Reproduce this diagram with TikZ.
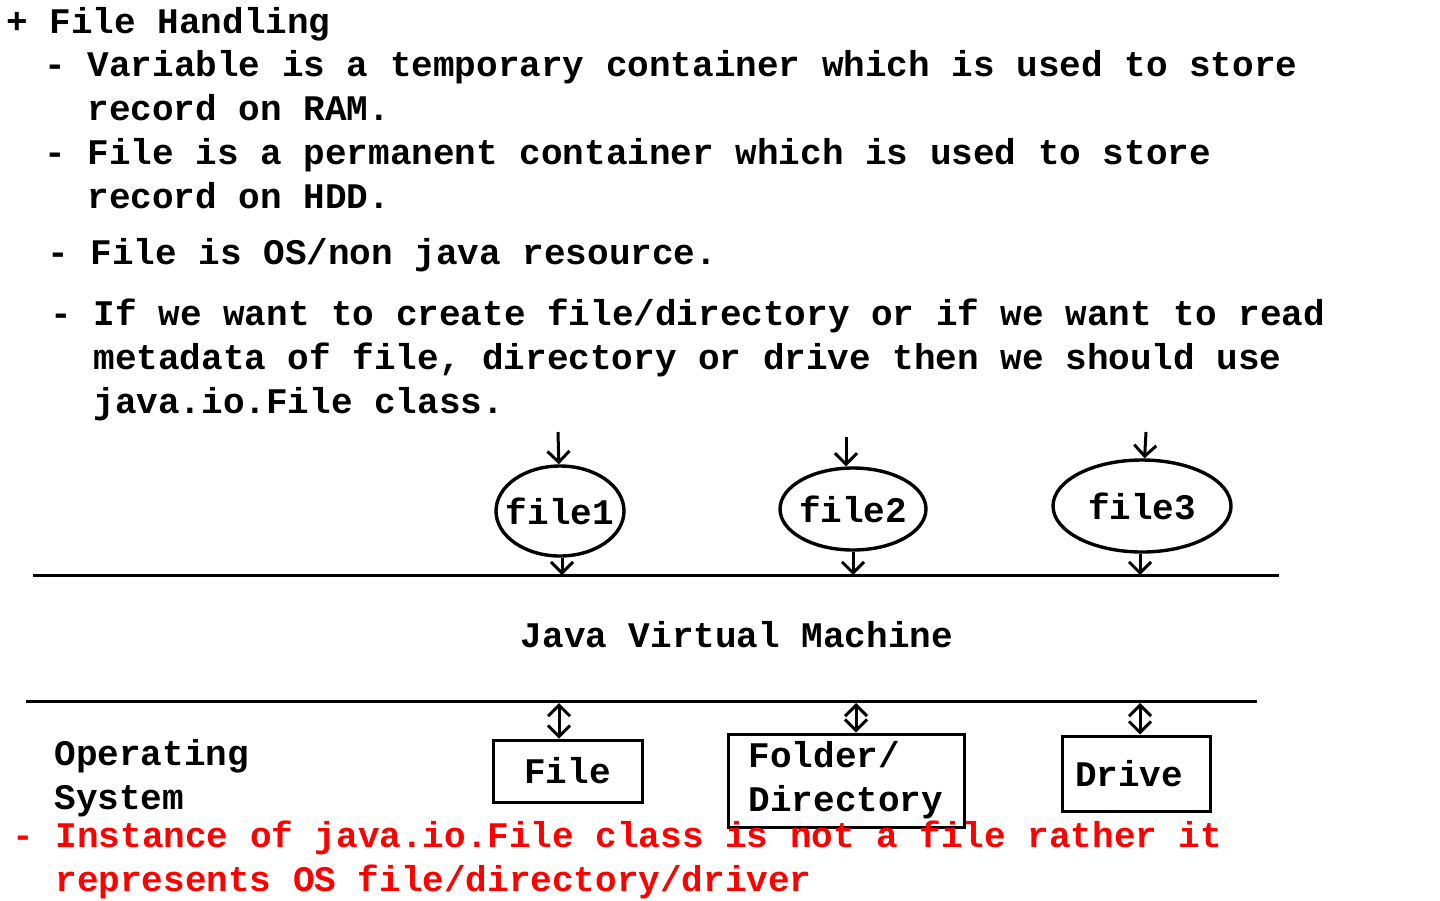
\documentclass[tikz,border=0pt]{standalone}
\usepackage{fontspec}
\usepackage{xcolor}
\usetikzlibrary{shapes.geometric,arrows.meta}
\setmonofont{Liberation Mono}
\definecolor{hinweis}{HTML}{FF0000}

\tikzset{
  txt/.style={font=\ttfamily\bfseries\fontsize{18}{22}\selectfont, inner sep=0pt, anchor=base west},
  obj/.style={draw, line width=1.7pt, ellipse, inner ysep=0pt, inner xsep=-5pt, font=\ttfamily\bfseries\fontsize{18}{22}\selectfont},
  res/.style={draw, line width=1.5pt, rectangle, inner sep=0pt, align=left, font=\ttfamily\bfseries\fontsize{18}{22}\selectfont},
  >={Straight Barb[length=5.5pt,width=11pt]}
}

\begin{document}
\begin{tikzpicture}[x=0.5pt, y=-0.5pt, line width=1.5pt]
    \useasboundingbox (0,0) rectangle (1440,900);

    % Notes
    \node[txt] (head) at (5,33) {+ File Handling};
    \node[txt] (var1) at (43,76) {- Variable is a temporary container which is used to store};
    \node[txt] (var2) at (86,120) {record on RAM.};
    \node[txt] (fil1) at (43,164) {- File is a permanent container which is used to store};
    \node[txt] (fil2) at (86,208) {record on HDD.};
    \node[txt] (osres) at (46,264) {- File is OS/non java resource.};
    \node[txt] (use1) at (49,325) {- If we want to create file/directory or if we want to read};
    \node[txt] (use2) at (92,369) {metadata of file, directory or drive then we should use};
    \node[txt] (use3) at (92,413) {java.io.File class.};

    % File objects
    \node[obj, minimum width=64pt, minimum height=45pt] (f1) at (560,511) {file1};
    \node[obj, minimum width=73pt, minimum height=41pt] (f2) at (853,509) {file2};
    \node[obj, minimum width=89pt, minimum height=46pt] (f3) at (1142,506) {file3};

    \coordinate (in1) at (558,432);
    \coordinate (in2) at (846,437);
    \coordinate (in3) at (1146,432);
    \coordinate (out1) at (562,575);
    \coordinate (out2) at (853,575);
    \coordinate (out3) at (1140,575);

    \draw[->] (in1) -- (f1);
    \draw[->] (in2) -- (in2 |- f2.north);
    \draw[->] (in3) -- (f3);
    \draw[->] (f1.south -| out1) -- (out1);
    \draw[->] (f2) -- (out2);
    \draw[->] (f3.south -| out3) -- (out3);

    % JVM layer
    \draw (33,575) -- (1279,575);
    \node[txt, anchor=base] (jvm) at (737,647) {Java Virtual Machine};
    \draw (26,701) -- (1257,701);

    % Operating system resources
    \node[txt] (os1) at (53,765) {Operating};
    \node[txt] (os2) at (53,809) {System};
    \node[res, minimum width=74.5pt, minimum height=31pt] (bxFile) at (567.5,771) {File};
    \node[res, minimum width=118pt, minimum height=46.5pt] (bxDir) at (846,780.5) {Folder/\\Directory};
    \node[res, minimum width=74pt, minimum height=37.5pt] (bxDrive) at (1136,773.5) {Drive\hspace{7pt}};

    \coordinate (jFile) at (559,703);
    \coordinate (jDir) at (856,703);
    \coordinate (jDrive) at (1140,703);
    \draw[<->] (jFile) -- (bxFile.north -| jFile);
    \draw[<->] (jDir) -- (bxDir.north -| jDir);
    \draw[<->] (jDrive) -- (bxDrive.north -| jDrive);

    % Remark
    \node[txt, text=hinweis] (inst1) at (11,847) {- Instance of java.io.File class is not a file rather it};
    \node[txt, text=hinweis] (inst2) at (54,891) {represents OS file/directory/driver};
\end{tikzpicture}
\end{document}
